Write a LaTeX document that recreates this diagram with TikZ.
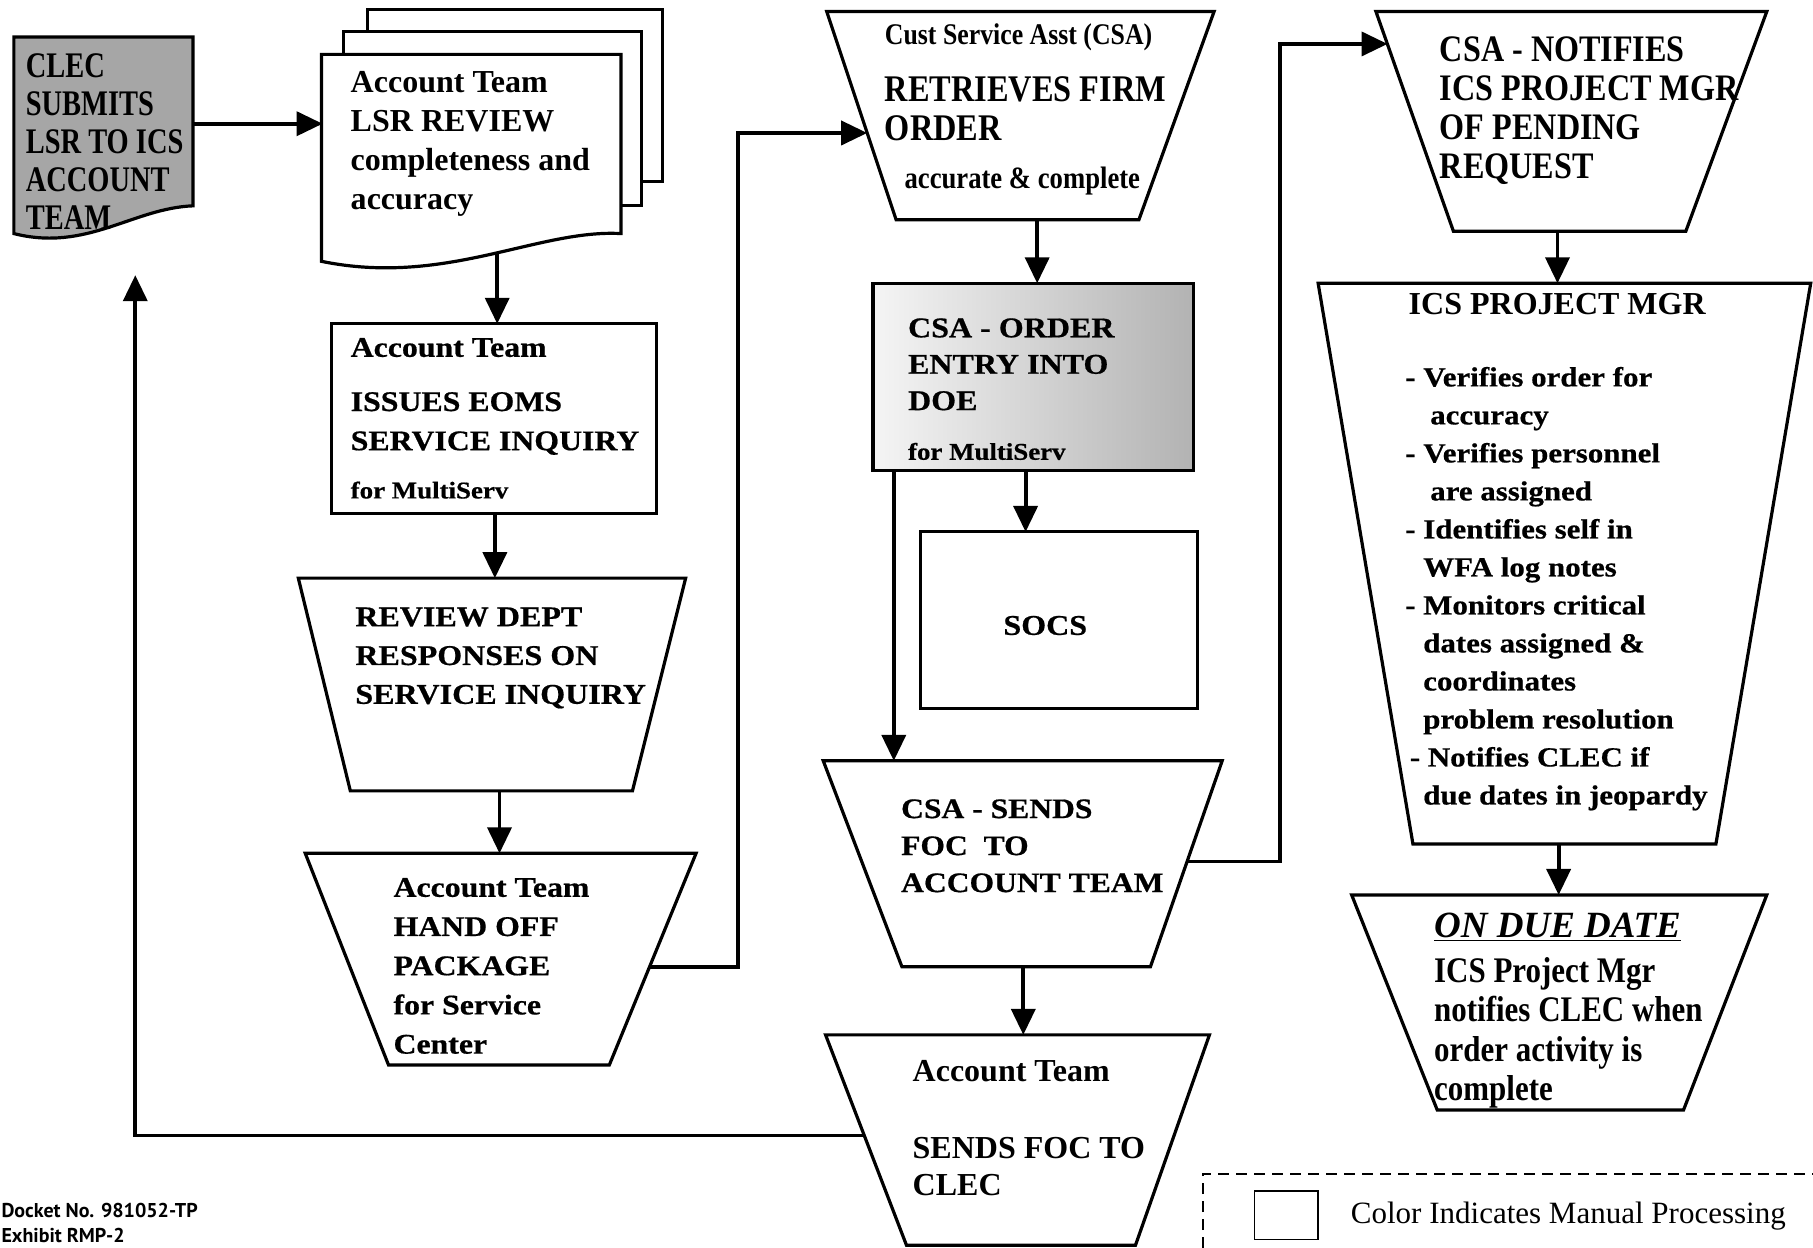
\documentclass[tikz,border=0pt]{standalone}
\usepackage{fontspec}
\setmainfont{Liberation Serif}
\newfontfamily\widefont[FakeStretch=1.12, BoldFeatures={FakeBold=0.6}]{Liberation Serif}
\newfontfamily\narrowfont[FakeStretch=0.86]{Liberation Serif}
\newfontfamily\clecfont[FakeStretch=0.79]{Liberation Serif}
\newfontfamily\docketfont{PT Sans}
\usetikzlibrary{arrows.meta}
\pgfdeclarelayer{bg}
\pgfsetlayers{bg,main}
\begin{document}
\begin{tikzpicture}[x=0.578pt,y=-0.578pt,
  box/.style={draw, line width=1.6pt, fill=white, line join=miter},
  conn/.style={line width=1.9pt},
  arr/.style={conn, -{Triangle[width=12pt,length=13pt]}},
  txt/.style={anchor=north west, inner sep=0pt, align=left},
  legdash/.style={line width=1pt, dash pattern=on 5.5pt off 3.5pt}]
\useasboundingbox (0,0) rectangle (1568,1079);

% ---------- shapes ----------
\draw[box, fill=black!35] (12,32) -- (167,32) -- (167,178) .. controls (115,180) and (75,218) .. (12,202) -- cycle;
\draw[box] (318,8) rectangle (573,157);
\draw[box] (297,27) rectangle (555,178);
\draw[box] (278,47) -- (537,47) -- (537,202) .. controls (465,198) and (385,248) .. (278,226) -- cycle;
\draw[box] (287,280) rectangle (568,444);
\draw[box] (258,500) -- (593,500) -- (547,684) -- (303,684) -- cycle;
\draw[box] (264,738) -- (602,738) -- (527,921) -- (336,921) -- cycle;
\draw[box] (715,10) -- (1050,10) -- (985,190) -- (775,190) -- cycle;
\draw[box, left color=black!4, right color=black!30] (755,245) rectangle (1032,407);
\draw[box] (796,460) rectangle (1036,613);
\draw[box] (712,658) -- (1057,658) -- (995,836) -- (780,836) -- cycle;
\draw[box] (714,895) -- (1046,895) -- (982,1077) -- (784,1077) -- cycle;
\draw[box] (1190,10) -- (1528,10) -- (1458,200) -- (1257,200) -- cycle;
\draw[box] (1140,245) -- (1566,245) -- (1484,730) -- (1222,730) -- cycle;
\draw[box] (1169,774) -- (1528,774) -- (1456,960) -- (1243,960) -- cycle;

% ---------- texts ----------
\node[txt, font=\clecfont\bfseries\fontsize{18}{19}\selectfont] (clec) at (22,46) {CLEC\\SUBMITS\\LSR TO ICS\\ACCOUNT\\TEAM};
\node[txt, font=\bfseries\fontsize{16}{19.5}\selectfont] (lsr) at (303,61) {Account Team\\LSR REVIEW\\completeness and\\accuracy};
\node[txt, font=\widefont\bfseries\fontsize{14.2}{19.6}\selectfont] (iss) at (303,292) {Account Team\\[7.5pt]ISSUES EOMS\\SERVICE INQUIRY\\[4.5pt]{\fontsize{12}{14}\selectfont for MultiServ}};
\node[txt, font=\widefont\bfseries\fontsize{14.3}{19.4}\selectfont] (rev) at (307,525) {REVIEW DEPT\\RESPONSES ON\\SERVICE INQUIRY};
\node[txt, font=\widefont\bfseries\fontsize{14.2}{19.6}\selectfont] (hand) at (340,759) {Account Team\\HAND OFF\\PACKAGE\\for Service\\Center};
\node[txt, font=\narrowfont\bfseries\fontsize{15}{18}\selectfont] (ret-title) at (765,20) {Cust Service Asst (CSA)};
\node[txt, font=\narrowfont\bfseries\fontsize{18.8}{19.6}\selectfont] (ret) at (765,66) {RETRIEVES FIRM\\ORDER};
\node[txt, font=\narrowfont\bfseries\fontsize{15.5}{18}\selectfont] (ret-sub) at (782,144) {accurate \& complete};
\node[txt, font=\widefont\bfseries\fontsize{14.3}{18.2}\selectfont] (ord) at (785,275) {CSA - ORDER\\ENTRY INTO\\DOE\\[6.6pt]{\fontsize{12}{14}\selectfont for MultiServ}};
\node[inner sep=0pt, font=\widefont\bfseries\fontsize{14.3}{17}\selectfont] (socs) at (904,541) {SOCS};
\node[txt, font=\widefont\bfseries\fontsize{14.1}{18.5}\selectfont] (sends) at (779,691) {CSA - SENDS\\FOC\ \ TO\\ACCOUNT TEAM};
\node[txt, font=\bfseries\fontsize{16}{18.5}\selectfont] (foc) at (789,917) {Account Team\\[20pt]SENDS FOC TO\\CLEC};
\node[txt, font=\narrowfont\bfseries\fontsize{18.7}{19.6}\selectfont] (notif) at (1245,31) {CSA - NOTIFIES\\ICS PROJECT MGR\\OF PENDING\\REQUEST};
\node[txt, font=\bfseries\fontsize{16}{19}\selectfont] (pm-title) at (1218,253) {ICS PROJECT MGR};
\node[txt, font=\widefont\bfseries\fontsize{13.8}{19}\selectfont] (pm) at (1215,317) {- Verifies order for\\\hspace*{12.5pt}accuracy\\- Verifies personnel\\\hspace*{12.5pt}are assigned\\- Identifies self in\\\hspace*{9pt}WFA log notes\\- Monitors critical\\\hspace*{9pt}dates assigned \&\\\hspace*{9pt}coordinates\\\hspace*{9pt}problem resolution\\\hspace*{2.3pt}- Notifies CLEC if\\\hspace*{9pt}due dates in jeopardy};
\node[txt, font=\bfseries\itshape\fontsize{18.5}{20}\selectfont] (due-title) at (1240,789) {\underline{ON DUE DATE}};
\node[txt, font=\narrowfont\bfseries\fontsize{18}{19.6}\selectfont] (due) at (1240,828) {ICS Project Mgr\\notifies CLEC when\\order activity is\\complete};

% ---------- legend & footer ----------
\draw[legdash] (1040,1095) -- (1040,1015) -- (1590,1015);
\node[draw, line width=0.9pt, minimum width=31.8pt, minimum height=24.3pt, inner sep=0pt] (leg-box) at (1112.5,1051) {};
\node[anchor=west, inner sep=0pt, font=\fontsize{15.5}{18}\selectfont] (leg-txt) at (1168,1052) {Color Indicates Manual Processing};
\node[txt, font=\docketfont\bfseries\fontsize{10}{12.7}\selectfont] (docket) at (1,1040) {Docket No. 981052-TP\\Exhibit RMP-2};

% ---------- connector points ----------
\coordinate (clec-r) at (160,107);
\coordinate (lsr-l) at (279,107);
\coordinate (lsr-b) at (430,214);
\coordinate (iss-t) at (430,280);
\coordinate (iss-b) at (428,440);
\coordinate (rev-t) at (428,500);
\coordinate (rev-b) at (432,680);
\coordinate (hand-t) at (432,738);
\coordinate (hand-r) at (555,836);
\coordinate (ret-l) at (750,115);
\coordinate (ret-b) at (897,186);
\coordinate (ord-t) at (897,245);
\coordinate (ord-b2) at (887,403);
\coordinate (socs-t) at (887,460);
\coordinate (ord-b1) at (773,403);
\coordinate (sends-t) at (773,658);
\coordinate (sends-b) at (885,832);
\coordinate (foc-t) at (885,895);
\coordinate (sends-r) at (1020,745);
\coordinate (not-l) at (1200,38);
\coordinate (foc-l) at (752,982);
\coordinate (clec-in) at (117,238);
\coordinate (not-b) at (1347,196);
\coordinate (pm-t) at (1347,245);
\coordinate (pm-b) at (1348,726);
\coordinate (due-t) at (1348,774);

\begin{pgfonlayer}{bg}
\draw[arr] (clec-r) -- (lsr-l);
\draw[arr] (lsr-b) -- (iss-t);
\draw[arr] (iss-b) -- (rev-t);
\draw[arr] (rev-b) -- (hand-t);
\draw[arr] (hand-r) -- ++(83,0) |- (ret-l);
\draw[arr] (ret-b) -- (ord-t);
\draw[arr] (ord-b2) -- (socs-t);
\draw[arr] (ord-b1) -- (sends-t);
\draw[arr] (sends-b) -- (foc-t);
\draw[arr] (sends-r) -- ++(87,0) |- (not-l);
\draw[arr] (foc-l) -| (clec-in);
\draw[arr] (not-b) -- (pm-t);
\draw[arr] (pm-b) -- (due-t);
\end{pgfonlayer}
\end{tikzpicture}
\end{document}
